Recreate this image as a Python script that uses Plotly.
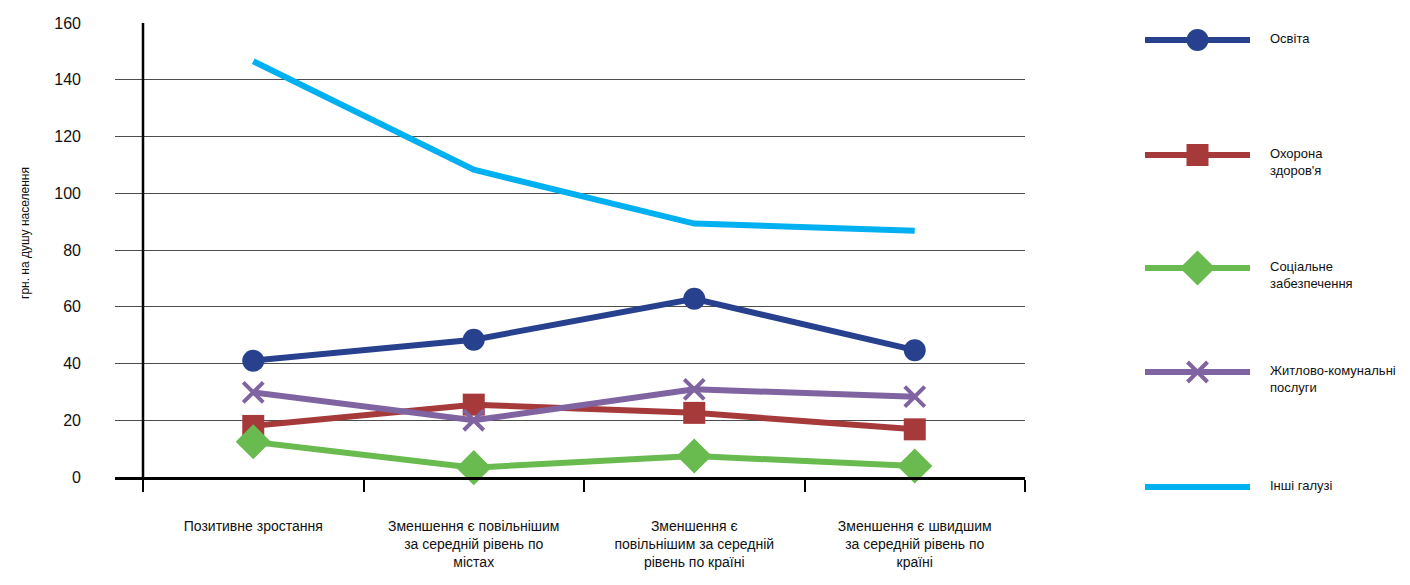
import plotly.graph_objects as go

categories = [
    "Позитивне зростання",
    "Зменшення є повільнішим<br>за середній рівень по<br>містах",
    "Зменшення є<br>повільнішим за середній<br>рівень по країні",
    "Зменшення є швидшим<br>за середній рівень по<br>країні",
]
osvita = [41.0, 48.4, 62.8, 44.7]
okhorona = [18.0, 25.5, 22.6, 16.8]
sotsialne = [12.4, 3.3, 7.4, 3.9]
zhytlovo = [29.8, 20.0, 30.9, 28.3]
inshi = [146.5, 108.3, 89.3, 86.8]

series_names = ["Освіта", "Охорона<br>здоров'я", "Соціальне<br>забезпечення",
                "Житлово-комунальні<br>послуги", "Інші галузі"]
series_values = [osvita, okhorona, sotsialne, zhytlovo, inshi]
colors = ["#27418F", "#A63A3A", "#69BB4F", "#8064A2", "#00B0F0"]
symbols = ["circle", "square", "diamond", "x-thin", None]
msizes = [22, 22, 27, 20, 0]
legend_y = [40, 155, 268, 372, 487]

FONT = "Liberation Sans, Arial, sans-serif"

OFF = 8  # page body margin
W, H = 1410, 585
ML, MR, MT, MB = 107, 10, 2, 10
PW, PH = W - ML - MR, H - MT - MB

def px_x(p):
    return (p - OFF - ML) / PW

def px_y(p):
    return (H - MB - (p - OFF)) / PH

fig = go.Figure()

for name, vals, col, sym, ms in zip(series_names, series_values, colors, symbols, msizes):
    if sym is None:
        mode = "lines"
        marker = None
    else:
        mode = "lines+markers"
        if sym == "x-thin":
            marker = dict(symbol=sym, size=ms, color=col, opacity=1, line=dict(color=col, width=4))
        else:
            marker = dict(symbol=sym, size=ms, color=col, opacity=1)
    fig.add_trace(go.Scatter(x=categories, y=vals, mode=mode, line=dict(color=col, width=6),
                             marker=marker, showlegend=False, cliponaxis=False,
                             xaxis="x", yaxis="y"))

# custom legend on a hidden axis pair (y in page pixels)
for name, col, sym, ms, ly in zip(series_names, colors, symbols, msizes, legend_y):
    fig.add_trace(go.Scatter(x=[0, 1], y=[ly, ly], mode="lines",
                             line=dict(color=col, width=6),
                             showlegend=False, cliponaxis=False, xaxis="x2", yaxis="y2",
                             hoverinfo="skip"))
    if sym is not None:
        if sym == "x-thin":
            marker = dict(symbol=sym, size=ms, color=col, opacity=1, line=dict(color=col, width=4))
        else:
            marker = dict(symbol=sym, size=ms, color=col, opacity=1)
        fig.add_trace(go.Scatter(x=[0.5], y=[ly], mode="markers", marker=marker,
                                 showlegend=False, cliponaxis=False, xaxis="x2", yaxis="y2",
                                 hoverinfo="skip"))
    fig.add_annotation(x=px_x(1268), y=px_y(ly - 11), xref="paper", yref="paper", text=name,
                       showarrow=False, xanchor="left", yanchor="top", align="left",
                       font=dict(family=FONT, size=13, color="#111"))

fig.update_layout(
    width=W, height=H,
    margin=dict(l=ML, r=MR, t=MT, b=MB),
    plot_bgcolor="white", paper_bgcolor="white",
    font=dict(family=FONT, size=14, color="#111"),
    xaxis=dict(
        type="category", domain=[0, px_x(1025)], range=[-0.627, 3.5], automargin=False,
        tickson="boundaries", ticks="outside", ticklen=12, tickwidth=1.5, tickcolor="black",
        showline=True, linecolor="black", linewidth=2.5, showgrid=False,
        ticklabelstandoff=34, tickfont=dict(family=FONT, size=14, color="#111"),
    ),
    yaxis=dict(
        domain=[px_y(477), px_y(23)], range=[0, 160], tickvals=[0, 20, 40, 60, 80, 100, 120, 140, 160],
        showgrid=True, gridcolor="#4d4d4d", gridwidth=1.2, zeroline=False, showline=False,
        automargin=False,
        ticks="", ticklabelstandoff=33, tickfont=dict(family=FONT, size=16, color="#111"),
    ),
    xaxis2=dict(domain=[px_x(1140), px_x(1255)], range=[-5 / 105, 1 + 5 / 105], visible=False,
                anchor="y2", automargin=False),
    yaxis2=dict(domain=[0, 1], range=[H - MB + OFF, MT + OFF], visible=False, anchor="x2",
                automargin=False),
)

# vertical axis line at the first category boundary
fig.add_shape(type="line", xref="x domain", yref="y", x0=(143 - 115) / 910, x1=(143 - 115) / 910,
              y0=0, y1=160, line=dict(color="black", width=2.5))

fig.add_annotation(x=px_x(16), y=px_y(233), xref="paper", yref="paper", text="грн. на душу населення",
                   textangle=-90, showarrow=False, font=dict(family=FONT, size=12, color="#111"))

fig.write_html("out.html")
